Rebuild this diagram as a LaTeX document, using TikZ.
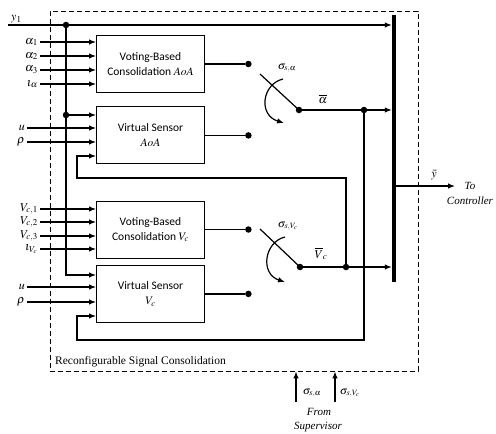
\documentclass[tikz,border=0pt]{standalone}
\usepackage{mathptmx}
\usepackage[no-math]{fontspec}
\setmainfont{Liberation Serif}
\newfontfamily\boxfont{Carlito}
\usetikzlibrary{arrows.meta,positioning}
\tikzset{
  blockbox/.style={
    rectangle, draw, line width=0.9pt,
    minimum width=108pt, minimum height=57pt,
    font=\boxfont\fontsize{11.5}{15}\selectfont, align=center,
    inner sep=2pt
  },
  wire/.style={line width=1.2pt},
  sig/.style={wire, -{Latex[length=7pt,width=5.5pt]}},
  junc/.style={circle, fill, inner sep=0pt, minimum size=6.5pt},
  inlabel/.style={font=\fontsize{12}{13}\selectfont, anchor=east, inner sep=0pt},
  swlabel/.style={font=\fontsize{11}{12}\selectfont, inner sep=0pt},
  txtlabel/.style={font=\fontsize{11}{13}\selectfont\itshape, inner sep=0pt},
  framebox/.style={draw, dash pattern=on 5pt off 3pt, line width=0.9pt, inner sep=0pt},
}

\begin{document}
\begin{tikzpicture}[x=1pt, y=-1pt]
    \useasboundingbox (0,0) rectangle (496,434);
    % dashed frame
    \node[framebox, minimum width=368pt, minimum height=360pt] (frame) at (234,191) {};
    \node[anchor=base west, font=\fontsize{11.5}{13}\selectfont, inner sep=0pt] (title) at (55,364) {Reconfigurable Signal Consolidation};

    % blocks
    \node[blockbox] (voteA) at (150.5,64) {Voting-Based\\Consolidation \(AoA\)};
    \node[blockbox, below=13.5pt of voteA] (virtA) {Virtual Sensor\\\(AoA\)};
    \node[blockbox] (voteV) at (150.5,229.5) {Voting-Based\\Consolidation \(V_c\)};
    \node[blockbox, below=6.5pt of voteV] (virtV) {Virtual Sensor\\\(V_c\)};
    \node[fill, inner sep=0pt, minimum width=4pt, minimum height=267pt] (bus) at (394,148.5) {};

    % inputs
    \foreach \yy/\lab [count=\i] in {42/\alpha_1, 56/\alpha_2, 70/\alpha_3, 84/\iota_\alpha}{
        \coordinate (inA\i) at (40,\yy);
        \node[inlabel] (labA\i) at ([xshift=-2pt]inA\i) {\(\lab\)};
        \draw[sig] (inA\i) -- (inA\i -| voteA.west);
    }
    \foreach \yy/\lab [count=\i] in {209/{V_{c,1}}, 222/{V_{c,2}}, 236/{V_{c,3}}, 249/{\iota_{V_c}}}{
        \coordinate (inV\i) at (40,\yy);
        \node[inlabel] (labV\i) at ([xshift=-2pt]inV\i) {\(\lab\)};
        \draw[sig] (inV\i) -- (inV\i -| voteV.west);
    }
    \foreach \yy/\lab [count=\i] in {128/u, 142/\rho}{
        \coordinate (inUA\i) at (27,\yy);
        \node[inlabel] (labUA\i) at ([xshift=-2pt]inUA\i) {\(\lab\)};
        \draw[sig] (inUA\i) -- (inUA\i -| virtA.west);
    }
    \foreach \yy/\lab [count=\i] in {287/u, 302/\rho}{
        \coordinate (inUV\i) at (27,\yy);
        \node[inlabel] (labUV\i) at ([xshift=-2pt]inUV\i) {\(\lab\)};
        \draw[sig] (inUV\i) -- (inUV\i -| virtV.west);
    }

    % y1 feed
    \coordinate (y1in) at (8,25);
    \node[inlabel, anchor=south west] (laby1) at ([shift={(3pt,2pt)}]y1in) {\(y_1\)};
    \draw[sig] (y1in) -- (y1in -| bus.west);
    \node[junc] (jY) at (66,25) {};
    \node[junc] (jS) at (66,115) {};
    \coordinate (inS2) at (66,275);
    \draw[wire] (jY) -- (jS);
    \draw[sig] (jS) -- (jS -| virtA.west);
    \draw[sig] (jS) -- (inS2) -- (inS2 -| virtV.west);

    % switch AoA
    \node[junc, right=40pt of voteA] (cA1) {};
    \node[junc, right=40pt of virtA] (cA2) {};
    \draw[wire] (voteA) -- (cA1);
    \draw[wire] (virtA) -- (cA2);
    \node[junc] (pA) at (299,110) {};
    \coordinate (armA) at (260,74);
    \draw[wire] (pA.center) -- (armA);
    \node[junc] (jA) at (364,110) {};
    \draw[wire] (pA) -- (jA);
    \draw[sig] (jA) -- (jA -| bus.west);
    \node[inlabel, anchor=center] (barA) at (323,99) {\(\overline{\alpha}\)};
    \coordinate (rotA1) at (283,79);
    \coordinate (rotA2) at (284,123);
    \draw[sig] (rotA1) .. controls (262,84) and (258,115) .. (rotA2);
    \node[swlabel] (sgA) at (287,68) {\(\sigma_{s,\alpha}\)};

    % switch Vc
    \node[junc, right=40pt of voteV] (cV1) {};
    \node[junc, right=40pt of virtV] (cV2) {};
    \draw[wire] (voteV) -- (cV1);
    \draw[wire] (virtV) -- (cV2);
    \node[junc] (pV) at (300,267) {};
    \coordinate (armV) at (260,229);
    \draw[wire] (pV.center) -- (armV);
    \node[junc] (jV) at (346,267) {};
    \draw[wire] (pV) -- (jV);
    \draw[sig] (jV) -- (jV -| bus.west);
    \node[inlabel, anchor=center] (barV) at (321,254) {\(\overline{V}_c\)};
    \coordinate (rotV1) at (285,237);
    \coordinate (rotV2) at (285,282);
    \draw[sig] (rotV1) .. controls (264,242) and (260,274) .. (rotV2);
    \node[swlabel] (sgV) at (288,226) {\(\sigma_{s,V_c}\)};

    % feedback to virtual sensors
    \coordinate (fbA1) at (77,178);
    \coordinate (fbA2) at (77,156);
    \draw[sig] (jV) |- (fbA1) -- (fbA2) -- (fbA2 -| virtA.west);
    \coordinate (fbV1) at (77,340);
    \coordinate (fbV2) at (77,316);
    \draw[sig] (jA) |- (fbV1) -- (fbV2) -- (fbV2 -| virtV.west);

    % output
    \coordinate (yout) at (455,186);
    \draw[sig] (bus.east |- yout) -- (yout);
    \node[inlabel, anchor=center] (laby) at (434,175) {\(\bar{y}\)};
    \node[txtlabel] (toc1) at (470,186) {To};
    \node[txtlabel] (toc2) at (470,201) {Controller};

    % supervisor
    \coordinate (supA) at (296,402);
    \coordinate (supV) at (335,402);
    \draw[sig] (supA) -- (supA |- frame.south);
    \draw[sig] (supV) -- (supV |- frame.south);
    \node[swlabel] (lsA) at (312,393) {\(\sigma_{s,\alpha}\)};
    \node[swlabel] (lsV) at (350,393) {\(\sigma_{s,V_c}\)};
    \node[txtlabel] (fr1) at (319,412) {From};
    \node[txtlabel] (fr2) at (318,427) {Supervisor};
\end{tikzpicture}
\end{document}
